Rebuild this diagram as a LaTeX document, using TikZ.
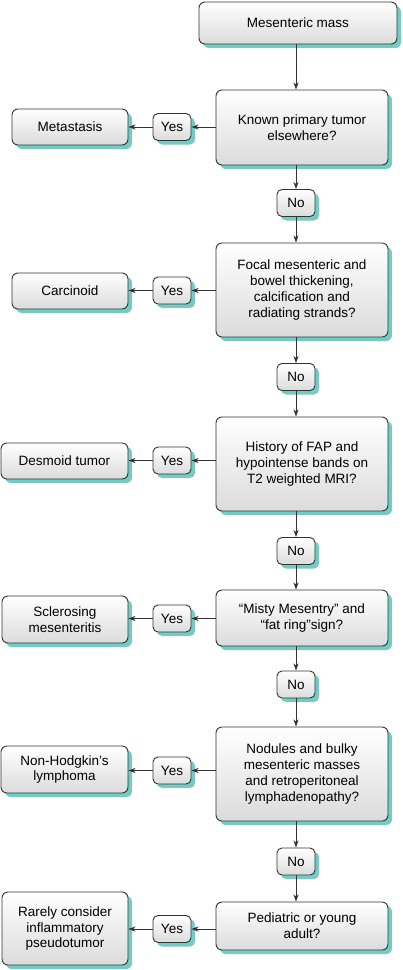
\documentclass[tikz,border=0pt]{standalone}
\usepackage{fontspec}
\setmainfont{Liberation Sans}
\usetikzlibrary{shadows,arrows.meta}
\definecolor{shad}{HTML}{72CCC3}
\definecolor{edge}{HTML}{333333}
\begin{document}
\begin{tikzpicture}[x=1pt,y=-1pt,
  base/.style={draw=edge, line width=0.9pt, rounded corners=6pt,
    top color=white, bottom color=black!14,
    drop shadow={shadow xshift=4pt, shadow yshift=-4pt, fill=shad, opacity=1},
    align=center, inner sep=0pt, font=\fontsize{13.5}{15.7}\selectfont},
  mainbox/.style={base, minimum width=172pt},
  leftbox/.style={base},
  tagbox/.style={base, rounded corners=5pt, minimum width=38pt, minimum height=27pt},
  arr/.style={draw=edge, line width=0.8pt, -{Stealth[length=7pt,width=5pt,inset=2pt]}}
]
\useasboundingbox[fill=white] (0,0) rectangle (403,970);

% main column
\node[base, minimum width=198pt, minimum height=42pt] (m1) at (298,23) {Mesenteric mass};
\node[mainbox, minimum height=75pt] (m2) at (302,127.5) {Known primary tumor\\elsewhere?};
\node[mainbox, minimum height=94pt] (m3) at (302,290) {Focal mesenteric and\\bowel thickening,\\calcification and\\radiating strands?};
\node[mainbox, minimum height=94pt] (m4) at (302,464) {History of FAP and\\hypointense bands on\\T2 weighted MRI?};
\node[mainbox, minimum height=56pt] (m5) at (302,618) {“Misty Mesentry” and\\“fat ring”sign?};
\node[mainbox, minimum height=94pt] (m6) at (302,774) {Nodules and bulky\\mesenteric masses\\and retroperitoneal\\lymphadenopathy?};
\node[mainbox, minimum height=48pt] (m7) at (302,926) {Pediatric or young\\adult?};

% No tags
\node[tagbox] (n1) at (296,203) {No};
\node[tagbox] (n2) at (296,377) {No};
\node[tagbox] (n3) at (296,551) {No};
\node[tagbox] (n4) at (296,684.5) {No};
\node[tagbox] (n5) at (296,861.5) {No};

% Yes tags
\node[tagbox] (y2) at (172,127) {Yes};
\node[tagbox] (y3) at (172,290.5) {Yes};
\node[tagbox] (y4) at (172,460.5) {Yes};
\node[tagbox] (y5) at (172,618.5) {Yes};
\node[tagbox] (y6) at (172,770.5) {Yes};
\node[tagbox] (y7) at (172,929) {Yes};

% left outcomes
\node[leftbox, minimum width=116pt, minimum height=36pt] (l2) at (70,127) {Metastasis};
\node[leftbox, minimum width=116pt, minimum height=36pt] (l3) at (70,291) {Carcinoid};
\node[leftbox, minimum width=127pt, minimum height=36pt] (l4) at (64.5,461) {Desmoid tumor};
\node[leftbox, minimum width=126pt, minimum height=47pt] (l5) at (65,619.5) {Sclerosing\\mesenteritis};
\node[leftbox, minimum width=127pt, minimum height=47pt] (l6) at (64.5,769.5) {Non-Hodgkin’s\\lymphoma};
\node[leftbox, minimum width=126pt, minimum height=73pt] (l7) at (65,928.5) {Rarely consider\\inflammatory\\pseudotumor};

% vertical connectors
\draw[arr] (m1.south -| n1.north) -- (n1.north |- m2.north);
\draw[arr] (m2.south -| n1.north) -- (n1.north);
\draw[arr] (n1.south) -- (n1.south |- m3.north);
\draw[arr] (m3.south -| n2.north) -- (n2.north);
\draw[arr] (n2.south) -- (n2.south |- m4.north);
\draw[arr] (m4.south -| n3.north) -- (n3.north);
\draw[arr] (n3.south) -- (n3.south |- m5.north);
\draw[arr] (m5.south -| n4.north) -- (n4.north);
\draw[arr] (n4.south) -- (n4.south |- m6.north);
\draw[arr] (m6.south -| n5.north) -- (n5.north);
\draw[arr] (n5.south) -- (n5.south |- m7.north);

% horizontal connectors
\foreach \i in {2,...,7}{
  \draw[arr] (m\i.west |- y\i.east) -- (y\i.east);
  \draw[arr] (y\i.west) -- (l\i.east |- y\i.west);
}
\end{tikzpicture}
\end{document}
